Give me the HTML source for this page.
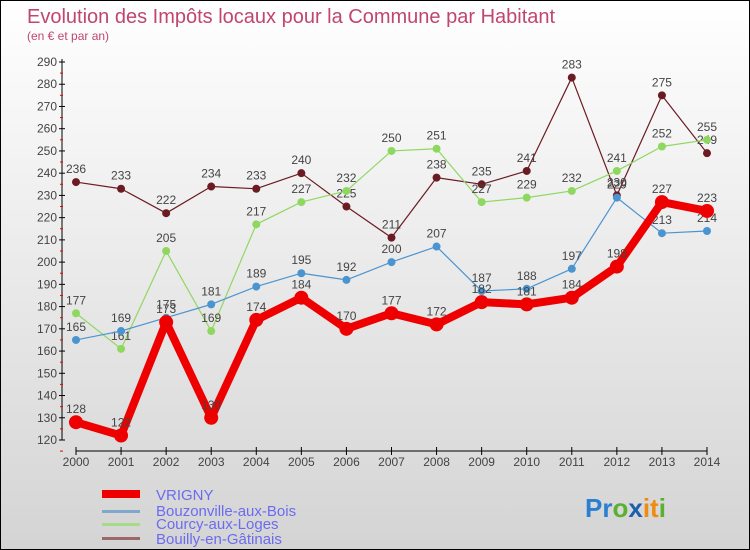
<!DOCTYPE html>
<html><head><meta charset="utf-8"><style>
body{margin:0}
#c{position:relative;width:748px;height:548px;border:1px solid #000;background:linear-gradient(#fff,#d4d4d4);font-family:"Liberation Sans",sans-serif;overflow:hidden}
</style></head><body>
<div id="c">
<svg id="s" width="748" height="548" xmlns="http://www.w3.org/2000/svg">
<text x="26" y="22" font-size="20" fill="#c0466e">Evolution des Impôts locaux pour la Commune par Habitant</text>
<text x="26" y="39" font-size="12" fill="#c0466e">(en € et par an)</text>
<g id="axes"></g><g id="series"></g>
<g>
<rect x="101" y="489" width="38" height="8" fill="#e00"/>
<text x="155" y="499" font-size="15" fill="#6b6bf0">VRIGNY</text>
<rect x="101" y="509" width="38" height="3" fill="#80a8cc"/>
<text x="155" y="515" font-size="15" fill="#6b6bf0">Bouzonville-aux-Bois</text>
<rect x="101" y="522" width="38" height="3" fill="#a6dc88"/>
<text x="155" y="528" font-size="15" fill="#6b6bf0">Courcy-aux-Loges</text>
<rect x="101" y="536" width="38" height="3" fill="#9a6a6a"/>
<text x="155" y="543" font-size="15" fill="#6b6bf0">Bouilly-en-Gâtinais</text>
</g>
<text x="584" y="516" font-size="26" font-weight="bold"><tspan fill="#2a7fd0">Pr</tspan><tspan fill="#5ab030">o</tspan><tspan fill="#1a5fb0">x</tspan><tspan fill="#f08a10">it</tspan><tspan fill="#5ab030">i</tspan></text>
</svg>
</div>
<script>
const years=[2000,2001,2002,2003,2004,2005,2006,2007,2008,2009,2010,2011,2012,2013,2014];
const yTicks=[120,130,140,150,160,170,180,190,200,210,220,230,240,250,260,270,280,290];
const vrigny=[128,122,173,130,174,184,170,177,172,182,181,184,198,227,223];
const bouzonville=[165,169,175,181,189,195,192,200,207,187,188,197,229,213,214];
const courcy=[177,161,205,169,217,227,232,250,251,227,229,232,241,252,255];
const bouilly=[236,233,222,234,233,240,225,211,238,235,241,283,230,275,249];
const NS="http://www.w3.org/2000/svg";
const xs=i=>75+i*(631/14);
const ys=v=>439-(v-120)*(378/170);
function mk(t,a,p){const e=document.createElementNS(NS,t);for(const k in a)e.setAttribute(k,a[k]);p.appendChild(e);return e;}
const ax=document.getElementById('axes');
let e=mk('line',{x1:61,y1:58,x2:61,y2:439,stroke:'#000'},ax);


e=mk('line',{x1:75,y1:450,x2:706,y2:450,stroke:'#000'},ax);


yTicks.forEach(v=>{
 const y=ys(v);
 mk('line',{x1:58,y1:y,x2:64,y2:y,stroke:'#000'},ax);
 mk('line',{x1:59,y1:y+11.1,x2:62,y2:y+11.1,stroke:'#e00'},ax);
 const t=mk('text',{x:56,y:y+4,'font-size':12,fill:'#444','text-anchor':'end'},ax);
 t.textContent=v;
 
 
});
years.forEach((yr,i)=>{
 const x=xs(i);
 mk('line',{x1:x,y1:446,x2:x,y2:454,stroke:'#000'},ax);
 const t=mk('text',{x:x,y:465,'font-size':12,fill:'#444','text-anchor':'middle'},ax);
 t.textContent=yr;
 
 
});
const sg=document.getElementById('series');
function draw(name,data,color,w,r){
 const g=mk('g',{},sg);
 
 
 const l=mk('polyline',{points:data.map((v,i)=>xs(i)+','+ys(v)).join(' '),fill:'none',stroke:color,'stroke-width':w,'stroke-linejoin':'round'},g);
 
 
 data.forEach((v,i)=>{
  const c=mk('circle',{cx:xs(i),cy:ys(v),r:r,fill:color},g);
  
  
  const t=mk('text',{x:xs(i),y:ys(v)-9,'font-size':12,fill:'#444','text-anchor':'middle'},g);
  t.textContent=v;
  
  
 });
}
draw('bouilly',bouilly,'#6b1c22',1.2,4);
draw('courcy',courcy,'#8fd860',1.2,4);
draw('bouzonville',bouzonville,'#4a94d0',1.2,4);
draw('vrigny',vrigny,'#ee0000',8,7);
</script>
</body></html>
